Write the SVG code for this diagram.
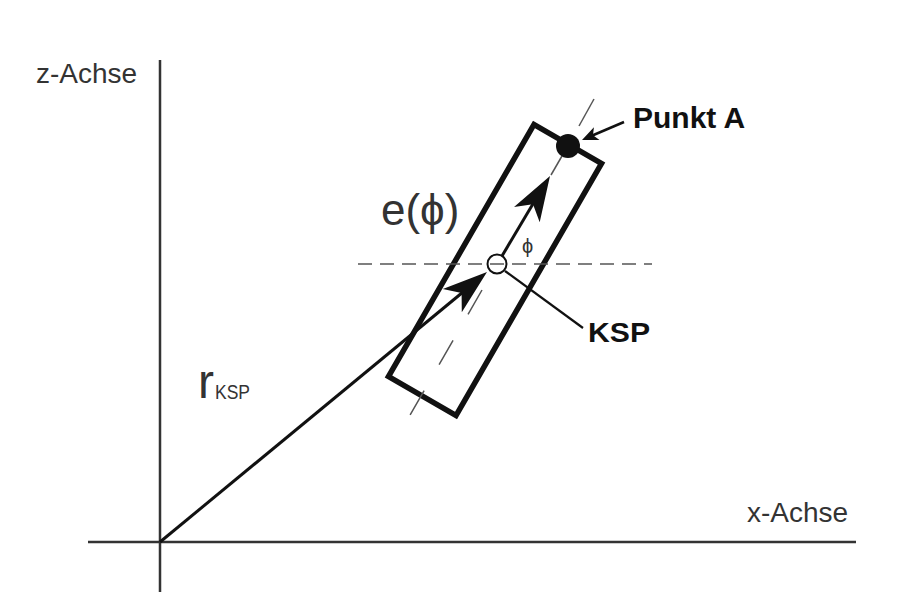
<svg xmlns="http://www.w3.org/2000/svg" width="899" height="609" viewBox="0 0 899 609">
<style>
.lbl{font-family:"Liberation Sans",Arial,sans-serif;fill:#333}
.bold{font-family:"Liberation Sans",Arial,sans-serif;font-weight:bold;fill:#111}
.axis{stroke:#333;stroke-width:2.5;fill:none}
.thick{stroke:#111;fill:none}
.head{fill:#111}
.dash{stroke:#555;stroke-width:1.5;fill:none}
</style>
<rect width="899" height="609" fill="#fff"/>
<g id="axes">
<line class="axis" x1="160" y1="60" x2="160" y2="592"/>
<line class="axis" x1="88" y1="542" x2="856" y2="542"/>
<text class="lbl" x="36" y="83" font-size="28">z-Achse</text>
<text class="lbl" x="747" y="522" font-size="28">x-Achse</text>
</g>
<g id="body">
<rect x="456" y="-145.5" width="78" height="291" transform="translate(495 270) rotate(30) translate(-495 0)" class="thick" stroke-width="5.5" stroke-linejoin="miter"/>
</g>
<g id="guides">
<line class="dash" x1="358" y1="264" x2="652" y2="264" stroke-dasharray="14 8"/>
<line class="dash" x1="482" y1="290" x2="406" y2="422" stroke-dasharray="28 30" stroke-width="2"/>
<line class="dash" x1="594" y1="99" x2="579" y2="126" stroke-width="2"/>
<line class="dash" x1="551" y1="175" x2="562" y2="156" stroke-width="2"/>
</g>
<g id="connectors">
<line x1="160" y1="542" x2="480" y2="278" stroke="#111" stroke-width="3"/>
<polygon class="head" points="487,272 461.8,312.2 461.6,293 442.8,289"/>
<line x1="502" y1="256" x2="540" y2="192" stroke="#111" stroke-width="3"/>
<polygon class="head" points="550,176 539.7,222.3 533,204.3 514,206.9"/>
<line x1="505" y1="271" x2="583" y2="328" stroke="#111" stroke-width="2.2"/>
<line x1="624" y1="122" x2="590" y2="136.5" stroke="#111" stroke-width="2.5"/>
<polygon class="head" points="582,140 599.5,140.1 593,135.3 593.9,127.3"/>
</g>
<g id="ksp">
<circle cx="497" cy="264" r="9.5" fill="none" stroke="#111" stroke-width="2"/>
<text class="bold" x="588" y="342" font-size="28" textLength="62" lengthAdjust="spacingAndGlyphs">KSP</text>
</g>
<g id="punktA">
<circle cx="568" cy="146" r="12" fill="#111"/>
<text class="bold" x="633" y="128" font-size="30">Punkt A</text>
</g>
<g id="labels">
<text class="lbl" x="381" y="225" font-size="44">e(ϕ)</text>
<text class="lbl" x="522" y="253" font-size="20" fill="#555">ϕ</text>
<text class="lbl" x="198" y="398" font-size="48" fill="#222">r</text>
<text class="lbl" x="215" y="399" font-size="20" textLength="35" lengthAdjust="spacingAndGlyphs">KSP</text>
</g>
</svg>
